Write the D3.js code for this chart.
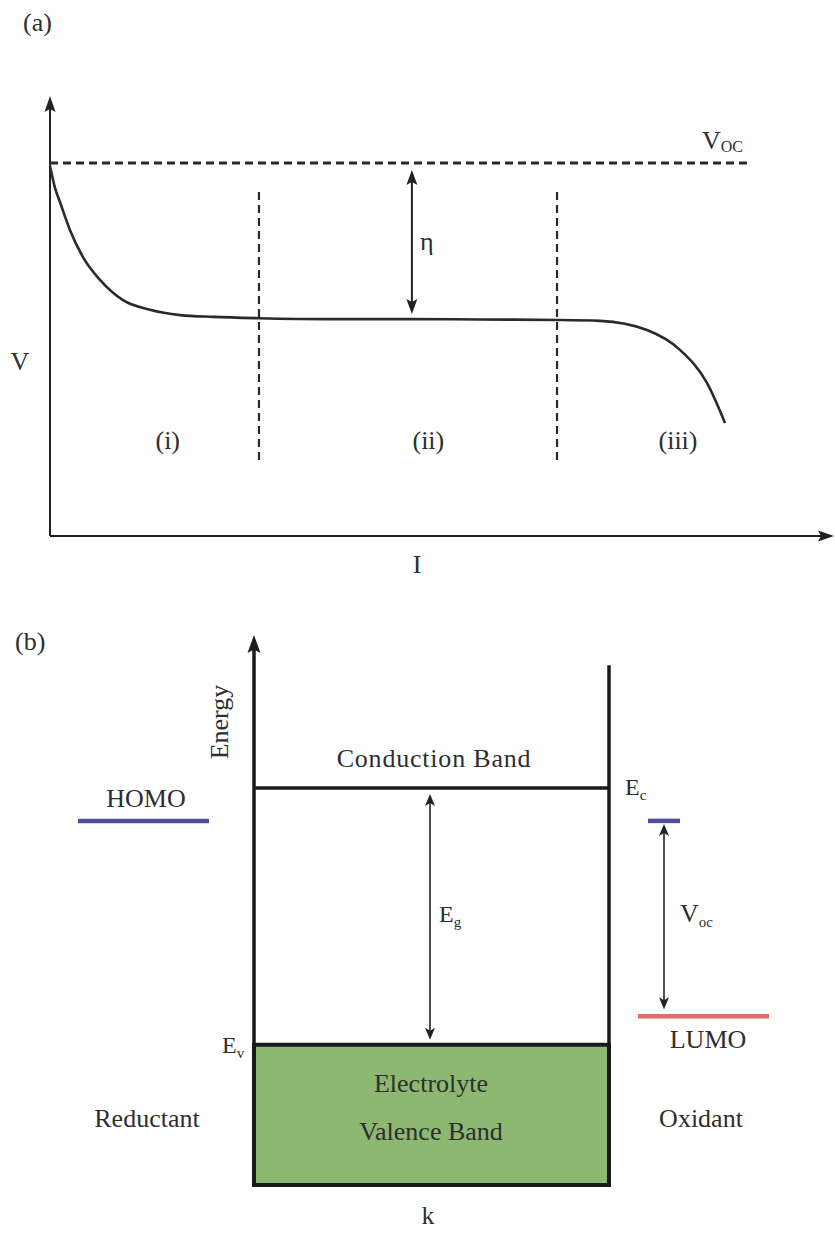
<!DOCTYPE html>
<html>
<head>
<meta charset="utf-8">
<script src="https://cdn.jsdelivr.net/npm/d3@7"></script>
<style>
  body { margin: 0; background: #ffffff; }
  text { font-family: "Liberation Serif", "Times New Roman", serif; fill: #2e2e2e; }
</style>
</head>
<body>
<svg id="chart" width="835" height="1234"></svg>
<script>
// ---------- Panel (a): cell voltage vs current ----------
const currentI = [0, 0.64, 1.27, 2.55, 4.20, 6.37, 9.30, 12.74, 16.56, 20.76, 26.62, 35.67, 45.99, 54.78, 64.59, 70.06, 76.05, 80.25, 83.69, 85.99];
const voltageV = [84.1, 79.1, 75.9, 69.5, 63.4, 58.2, 53.6, 51.4, 50.2, 49.8, 49.5, 49.3, 49.3, 49.2, 49.1, 48.9, 46.8, 42.3, 34.8, 25.7];
const vOpenCircuit = 84.8;
const vOcLineEnd = 88.9;          // current where the V_OC guide ends
const regionBounds = [26.62, 64.59];
const regionSpan = [16.8, 78.2];  // voltage extent of region dividers
const regionLabels = ["(i)", "(ii)", "(iii)"];
const regionCenters = [15.0, 48.2, 80.0];
const etaAt = 46.1;               // current where overpotential is marked
const etaPlateau = 49.3;

// ---------- Panel (b): band diagram ----------
const levelNames = ["Ec", "Ev", "HOMO", "LUMO"];
const levelEnergy = [7.22, 2.55, 6.62, 3.07];
const boxBottom = 0;
const wallTop = 9.45;

const svg = d3.select("#chart");
const ink = "#222222";

// arrowhead with notched back, tip at (x,y), pointing along angle (radians)
function arrowHead(g, x, y, angle, len, half, notch, color) {
  const p = [[0, 0], [-len, -half], [-len + notch, 0], [-len, half]];
  const c = Math.cos(angle), s = Math.sin(angle);
  const pts = p.map(([px, py]) => [x + px * c - py * s, y + px * s + py * c]);
  g.append("path")
    .attr("d", "M" + pts.map(q => q.join(",")).join("L") + "Z")
    .attr("fill", color);
}

// ===== Panel (a) =====
const xA = d3.scaleLinear().domain([0, 100]).range([50, 835]);
const yA = d3.scaleLinear().domain([0, 100]).range([536, 96]);
const gA = svg.append("g");

gA.append("text").attr("x", 23).attr("y", 31).attr("font-size", 26).text("(a)");

// axes
gA.append("line").attr("x1", xA(0)).attr("y1", yA(0)).attr("x2", xA(0)).attr("y2", yA(100) + 10)
  .attr("stroke", ink).attr("stroke-width", 2);
arrowHead(gA, xA(0), yA(100), -Math.PI / 2, 16, 5.5, 3, ink);
gA.append("line").attr("x1", xA(0)).attr("y1", yA(0)).attr("x2", xA(100) - 10).attr("y2", yA(0))
  .attr("stroke", ink).attr("stroke-width", 2);
arrowHead(gA, xA(100) - 1, yA(0), 0, 16, 5.5, 3, ink);

// open-circuit voltage guide
gA.append("line").attr("x1", xA(0)).attr("x2", xA(vOcLineEnd))
  .attr("y1", yA(vOpenCircuit)).attr("y2", yA(vOpenCircuit))
  .attr("stroke", "#2a2a2a").attr("stroke-width", 3).attr("stroke-dasharray", "8,5");
const voc = gA.append("text").attr("x", 702).attr("y", 149).attr("font-size", 26);
voc.append("tspan").text("V");
voc.append("tspan").attr("font-size", 16).attr("dy", 3).text("OC");

// region dividers
regionBounds.forEach(b => {
  gA.append("line").attr("x1", xA(b)).attr("x2", xA(b))
    .attr("y1", yA(regionSpan[1])).attr("y2", yA(regionSpan[0]))
    .attr("stroke", "#2a2a2a").attr("stroke-width", 2.2).attr("stroke-dasharray", "8,5");
});
regionLabels.forEach((t, i) => {
  gA.append("text").attr("x", xA(regionCenters[i])).attr("y", 449)
    .attr("text-anchor", "middle").attr("font-size", 26).text(t);
});

// polarization curve
const curve = d3.line().x(d => xA(d[0])).y(d => yA(d[1])).curve(d3.curveMonotoneX);
gA.append("path").datum(currentI.map((v, i) => [v, voltageV[i]]))
  .attr("d", curve).attr("fill", "none").attr("stroke", "#2a2a2a").attr("stroke-width", 2.6);

// overpotential arrow
const ex = xA(etaAt), eTop = yA(vOpenCircuit) + 7, eBot = yA(etaPlateau) - 5;
gA.append("line").attr("x1", ex).attr("x2", ex).attr("y1", eTop + 8).attr("y2", eBot - 8)
  .attr("stroke", ink).attr("stroke-width", 2);
arrowHead(gA, ex, eTop, -Math.PI / 2, 15, 5.5, 3, ink);
arrowHead(gA, ex, eBot, Math.PI / 2, 15, 5.5, 3, ink);
gA.append("text").attr("x", 420).attr("y", 250).attr("font-size", 26).text("η");

gA.append("text").attr("x", 20).attr("y", 370).attr("text-anchor", "middle").attr("font-size", 26).text("V");
gA.append("text").attr("x", 417).attr("y", 573).attr("text-anchor", "middle").attr("font-size", 26).text("I");

// ===== Panel (b) =====
const yE = d3.scaleLinear().domain([0, 10]).range([1185, 635]);
const xL = 254, xR = 609;
const E = Object.fromEntries(levelNames.map((n, i) => [n, levelEnergy[i]]));
const gB = svg.append("g");

gB.append("text").attr("x", 15).attr("y", 650).attr("font-size", 26).text("(b)");

// valence band / electrolyte block
gB.append("rect").attr("x", xL).attr("y", yE(E.Ev)).attr("width", xR - xL).attr("height", yE(boxBottom) - yE(E.Ev))
  .attr("fill", "#8cb872").attr("stroke", "#1a1a1a").attr("stroke-width", 4);

// energy axis and right wall
gB.append("line").attr("x1", xL).attr("x2", xL).attr("y1", yE(boxBottom)).attr("y2", yE(10) + 12)
  .attr("stroke", "#1a1a1a").attr("stroke-width", 3.5);
arrowHead(gB, xL, yE(10), -Math.PI / 2, 18, 6.5, 3.5, "#1a1a1a");
gB.append("line").attr("x1", xR).attr("x2", xR).attr("y1", yE(boxBottom)).attr("y2", yE(wallTop))
  .attr("stroke", "#1a1a1a").attr("stroke-width", 3.5);

// conduction band edge
gB.append("line").attr("x1", xL).attr("x2", xR).attr("y1", yE(E.Ec)).attr("y2", yE(E.Ec))
  .attr("stroke", "#1a1a1a").attr("stroke-width", 3.5);
gB.append("text").attr("x", 434).attr("y", 767).attr("text-anchor", "middle").attr("font-size", 26)
  .attr("letter-spacing", 0.8).text("Conduction Band");

// energy axis label
gB.append("text").attr("transform", "translate(228,722) rotate(-90)")
  .attr("text-anchor", "middle").attr("font-size", 26).text("Energy");

// band gap arrow
const gx = 430, gTop = yE(E.Ec) + 6, gBot = yE(E.Ev) - 5;
gB.append("line").attr("x1", gx).attr("x2", gx).attr("y1", gTop + 8).attr("y2", gBot - 8)
  .attr("stroke", ink).attr("stroke-width", 1.6);
arrowHead(gB, gx, gTop, -Math.PI / 2, 12, 5, 3, ink);
arrowHead(gB, gx, gBot, Math.PI / 2, 12, 5, 3, ink);
const eg = gB.append("text").attr("x", 439).attr("y", 922).attr("font-size", 24);
eg.append("tspan").text("E");
eg.append("tspan").attr("font-size", 15).attr("dy", 5).text("g");

// band edge labels
const ec = gB.append("text").attr("x", 625).attr("y", 795).attr("font-size", 24);
ec.append("tspan").text("E");
ec.append("tspan").attr("font-size", 15).attr("dy", 5).text("c");
const ev = gB.append("text").attr("x", 222).attr("y", 1053).attr("font-size", 24);
ev.append("tspan").text("E");
ev.append("tspan").attr("font-size", 15).attr("dy", 5).text("v");

// HOMO / LUMO levels
const homoColor = "#4d4f9b", lumoColor = "#de6e66";
gB.append("line").attr("x1", 78).attr("x2", 209).attr("y1", yE(E.HOMO)).attr("y2", yE(E.HOMO))
  .attr("stroke", homoColor).attr("stroke-width", 4.5);
gB.append("text").attr("x", 146).attr("y", 807).attr("text-anchor", "middle").attr("font-size", 26).text("HOMO");
gB.append("line").attr("x1", 648).attr("x2", 680).attr("y1", yE(E.HOMO)).attr("y2", yE(E.HOMO))
  .attr("stroke", homoColor).attr("stroke-width", 4.5);
gB.append("line").attr("x1", 638).attr("x2", 769).attr("y1", yE(E.LUMO)).attr("y2", yE(E.LUMO))
  .attr("stroke", lumoColor).attr("stroke-width", 4.5);
gB.append("text").attr("x", 708).attr("y", 1048).attr("text-anchor", "middle").attr("font-size", 26).text("LUMO");

// open-circuit voltage arrow
const vx = 664, vTop = yE(E.HOMO) + 3, vBot = yE(E.LUMO) - 7;
gB.append("line").attr("x1", vx).attr("x2", vx).attr("y1", vTop + 8).attr("y2", vBot - 8)
  .attr("stroke", ink).attr("stroke-width", 1.6);
arrowHead(gB, vx, vTop, -Math.PI / 2, 12, 5, 3, ink);
arrowHead(gB, vx, vBot, Math.PI / 2, 12, 5, 3, ink);
const vo = gB.append("text").attr("x", 680).attr("y", 922).attr("font-size", 26);
vo.append("tspan").text("V");
vo.append("tspan").attr("font-size", 15).attr("dy", 5).text("oc");

// block and side labels
gB.append("text").attr("x", 431).attr("y", 1092).attr("text-anchor", "middle").attr("font-size", 26).text("Electrolyte");
gB.append("text").attr("x", 431).attr("y", 1140).attr("text-anchor", "middle").attr("font-size", 26).text("Valence Band");
gB.append("text").attr("x", 147).attr("y", 1127).attr("text-anchor", "middle").attr("font-size", 26).text("Reductant");
gB.append("text").attr("x", 701).attr("y", 1127).attr("text-anchor", "middle").attr("font-size", 26).text("Oxidant");
gB.append("text").attr("x", 428).attr("y", 1224).attr("text-anchor", "middle").attr("font-size", 26).text("k");
</script>
</body>
</html>
